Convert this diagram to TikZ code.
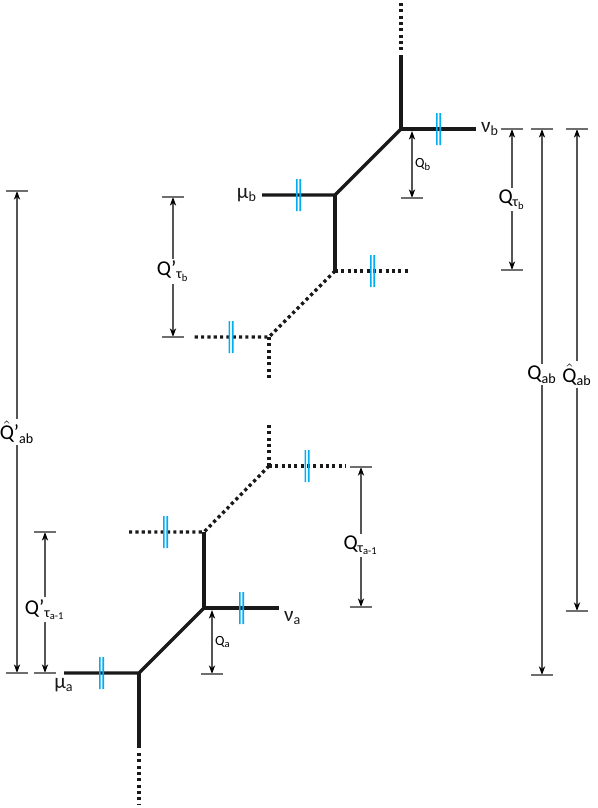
\documentclass[tikz,border=0pt]{standalone}
\usepackage{amsmath}
\usepackage{fontspec}
\setmainfont{Carlito}
\usetikzlibrary{arrows.meta}

\definecolor{tickblue}{RGB}{0,174,239}
\definecolor{dimgray}{RGB}{85,85,85}

\tikzset{
	endbar/.pic = {\draw[barline] (-11,0) -- (11,0);},
}

\begin{document}
\begin{tikzpicture}[x=0.02cm, y=-0.02cm,
	leg/.style = {line width=1.9pt, line cap=butt, line join=miter, black!90},
	ghost/.style = {leg, dash pattern=on 1.8pt off 1.8pt},
	tickfill/.style = {fill=tickblue, draw=none},
	barline/.style = {solid, dimgray!85, line width=0.7pt},
	dim/.style = {dimgray, line width=0.6pt, {Stealth[length=5pt,width=3.6pt,color=black]}-{Stealth[length=5pt,width=3.6pt,color=black]}},
	lbl/.style = {fill=white, text=black, inner sep=1.2pt, font=\fontsize{12}{12}\selectfont},
	small/.style = {right, text=black, inner sep=1.5pt, font=\fontsize{8}{8}\selectfont}]
	\useasboundingbox (0,0) rectangle (598,808);
	% upper vertices
	\coordinate (b1) at (401,129);
	\coordinate (b2) at (335,195);
	\coordinate (b3) at (335,271);
	\coordinate (b4) at (269,337);
	\coordinate (nub) at (476,129);
	\coordinate (mub) at (262,195);
	\coordinate (b3r) at (410,271);
	\coordinate (b4l) at (193,337);
	\coordinate (b4d) at (269,380);
	\coordinate (btop) at (401,55);
	\coordinate (bdot) at (401,51);
	\coordinate (bend) at (401,3);
	% lower vertices
	\coordinate (a4) at (269,466);
	\coordinate (a3) at (204,532);
	\coordinate (a2) at (204,608);
	\coordinate (a1) at (139,673);
	\coordinate (a4u) at (269,425);
	\coordinate (a4r) at (345,466);
	\coordinate (a3l) at (127,532);
	\coordinate (nua) at (279,608);
	\coordinate (mua) at (64,673);
	\coordinate (abot) at (139,748);
	\coordinate (adot) at (139,753);
	\coordinate (aend) at (139,805);
	% dimension ends
	\coordinate (qb1) at (412,131);
	\coordinate (qb2) at (412,198);
	\coordinate (qa1) at (212,610);
	\coordinate (qa2) at (212,674);
	\coordinate (qtb1) at (512,129);
	\coordinate (qtb2) at (512,270);
	\coordinate (qta1) at (361,467);
	\coordinate (qta2) at (361,607);
	\coordinate (qab1) at (542,129);
	\coordinate (qab2) at (542,675);
	\coordinate (hqab1) at (577,129);
	\coordinate (hqab2) at (577,611);
	\coordinate (ptb1) at (173,197);
	\coordinate (ptb2) at (173,337);
	\coordinate (pta1) at (45,532);
	\coordinate (pta2) at (45,673);
	\coordinate (hpab1) at (17,191);
	\coordinate (hpab2) at (17,673);

	% upper part
	\draw[ghost] (bend) -- (bdot);
	\draw[leg] (btop) -- (b1) -- (nub) coordinate[pos=.5] (t1)
		node[right, inner sep=2pt, font=\fontsize{12}{12}\selectfont] (lnub) {ν$_\text{b}$};
	\draw[leg] (b1) -- (b2) -- (mub) coordinate[pos=.5] (t2)
		node[left, inner sep=2pt, font=\fontsize{12}{12}\selectfont] (lmub) {μ$_\text{b}$};
	\draw[leg] (b2) -- (b3);
	\draw[ghost] (b3) -- (b3r) coordinate[pos=.5] (t3);
	\draw[ghost] (b3) -- (b4) -- (b4l) coordinate[pos=.5] (t4);
	\draw[ghost] (b4) -- (b4d);

	% lower part
	\draw[ghost] (a4u) -- (a4);
	\draw[ghost] (a4) -- (a4r) coordinate[pos=.5] (t5);
	\draw[ghost] (a4) -- (a3) -- (a3l) coordinate[pos=.5] (t6);
	\draw[leg] (a3) -- (a2) -- (nua) coordinate[pos=.5] (t7)
		node[anchor=north west, inner sep=1pt, xshift=1pt, font=\fontsize{12}{12}\selectfont] (lnua) {ν$_\text{a}$};
	\draw[leg] (a2) -- (a1) -- (mua) coordinate[pos=.5] (t8)
		node[below, inner sep=2pt, font=\fontsize{12}{12}\selectfont] (lmua) {μ$_\text{a}$};
	\draw[leg] (a1) -- (abot);
	\draw[ghost] (adot) -- (aend);
	% blue double ticks
	\foreach \t in {t1,t2,t3,t4,t5,t6,t7,t8}
		\fill[tickfill, shift={(\t)}] (-2.5,-16) rectangle (-0.8,16) (0.8,-16) rectangle (2.5,16);

	% dimensions
	\draw[dim] (qb1) -- (qb2) node[small, midway] (lqb) {Q$_\text{b}$};
	\draw[dim] (qa1) -- (qa2) node[small, midway] (lqa) {Q$_\text{a}$};
	\draw[dim] (qtb1) -- (qtb2) node[lbl, midway] (lqtb) {Q$_{\text{τ}_\text{b}}$};
	\draw[dim] (qta1) -- (qta2) node[lbl, pos=.56] (lqta) {Q$_{\text{τ}_\text{a-1}}$};
	\draw[dim] (qab1) -- (qab2) node[lbl, pos=.45] (lqab) {Q$_\text{ab}$};
	\draw[dim] (hqab1) -- (hqab2) node[lbl, pos=.51] (lhqab) {$\hat{\text{Q}}$$_\text{ab}$};
	\draw[dim] (ptb1) -- (ptb2) node[lbl, pos=.53] (lptb) {Q’$_{\text{τ}_\text{b}}$};
	\draw[dim] (pta1) -- (pta2) node[lbl, pos=.55] (lpta) {Q’$_{\text{τ}_\text{a-1}}$};
	\draw[dim] (hpab1) -- (hpab2) node[lbl, midway, inner xsep=0.5pt] (lhpab) {$\hat{\text{Q}}$’$_\text{ab}$};
	\foreach \c in {qb2, qa2, qtb1, qtb2, qta1, qta2, qab1, qab2, hqab1, hqab2, ptb1, ptb2, pta1, pta2, hpab1, hpab2}
		\pic at (\c) {endbar};
\end{tikzpicture}
\end{document}
